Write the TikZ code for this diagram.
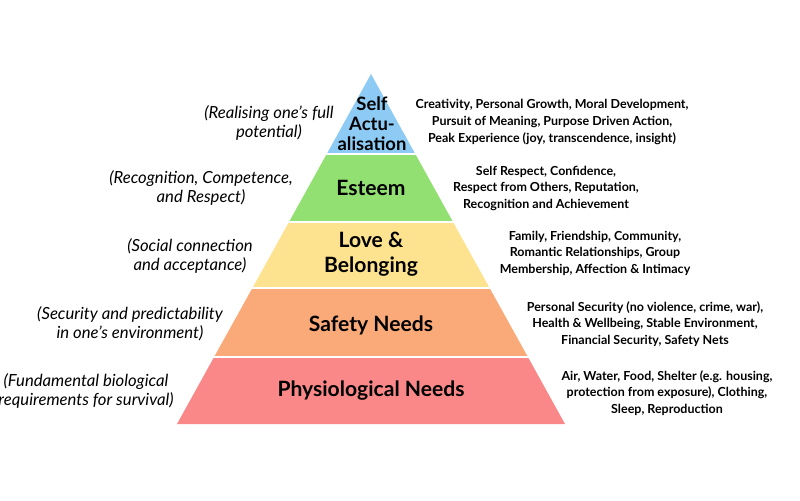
\documentclass[tikz,border=0pt]{standalone}
\usepackage{fontspec}
\setmainfont{Lato}
\usepackage{tikz}
\usetikzlibrary{positioning}
\definecolor{selfblue}{HTML}{8DCBF5}
\definecolor{esteemgreen}{HTML}{92DF72}
\definecolor{loveyellow}{HTML}{FDE38F}
\definecolor{safetyorange}{HTML}{FAAA78}
\definecolor{physred}{HTML}{FB8888}

\begin{document}
\begin{tikzpicture}[x=0.02cm, y=-0.02cm,
    level/.style={font=\bfseries\fontsize{12}{14}\selectfont, align=center},
    need/.style={font=\bfseries\fontsize{7.1}{9.4}\selectfont, align=center},
    aim/.style={font=\itshape\fontsize{9.5}{10.8}\selectfont, align=center}]
    \useasboundingbox (0,0) rectangle (800,500);

    % Các tầng của kim tự tháp
    \fill[selfblue] (371,74) -- (415.3,154) -- (326.7,154) -- cycle;
    \fill[esteemgreen] (326.7,154) -- (415.3,154) -- (453,222) -- (289,222) -- cycle;
    \fill[loveyellow] (289,222) -- (453,222) -- (489.6,288) -- (252.4,288) -- cycle;
    \fill[safetyorange] (252.4,288) -- (489.6,288) -- (527.9,357) -- (214.1,357) -- cycle;
    \fill[physred] (214.1,357) -- (527.9,357) -- (565,424) -- (177,424) -- cycle;
    \foreach \y in {154,222,288,357}
        \draw[white, line width=1.1pt] (170,\y) -- (575,\y);

    % Tên các tầng
    \node[level, font=\bfseries\fontsize{10.5}{11.4}\selectfont] (self) at (372,124) {Self\\Actu-\\alisation};
    \node[level] (esteem) at (371,188) {Esteem};
    \node[level] (love) at (371,254) {Love \&\\Belonging};
    \node[level] (safety) at (371,325) {Safety Needs};
    \node[level] (phys) at (371,391) {Physiological Needs};

    % Nhu cầu cụ thể (bên phải)
    \node[need] (self_r) at (552,122) {Creativity, Personal Growth, Moral Development,\\Pursuit of Meaning, Purpose Driven Action,\\Peak Experience (joy, transcendence, insight)};
    \node[need] (esteem_r) at (546,188) {Self Respect, Confidence,\\Respect from Others, Reputation,\\Recognition and Achievement};
    \node[need] (love_r) at (595,253) {Family, Friendship, Community,\\Romantic Relationships, Group\\Membership, Affection \& Intimacy};
    \node[need] (safety_r) at (645,324) {Personal Security (no violence, crime, war),\\Health \& Wellbeing, Stable Environment,\\Financial Security, Safety Nets};
    \node[need] (phys_r) at (667,393) {Air, Water, Food, Shelter (e.g. housing,\\protection from exposure), Clothing,\\Sleep, Reproduction};

    % Mô tả (bên trái)
    \node[aim] (self_l) at (269,123) {(Realising one’s full\\potential)};
    \node[aim] (esteem_l) at (201,188) {(Recognition, Competence,\\and Respect)};
    \node[aim] (love_l) at (190,256) {(Social connection\\and acceptance)};
    \node[aim] (safety_l) at (130,324) {(Security and predictability\\in one’s environment)};
    \node[aim] (phys_l) at (86,391) {(Fundamental biological\\requirements for survival)};
\end{tikzpicture}
\end{document}
